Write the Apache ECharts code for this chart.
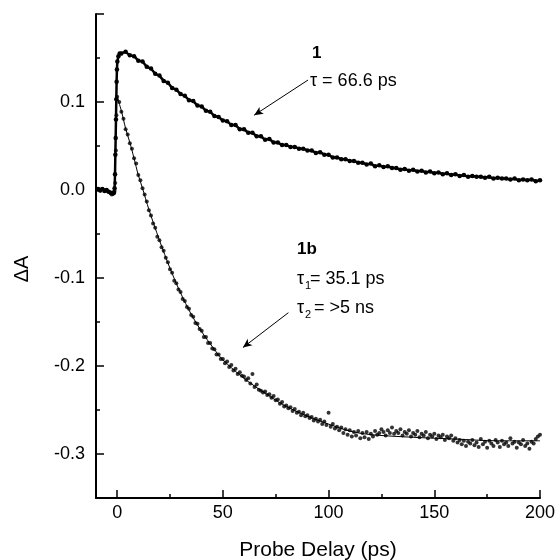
<!DOCTYPE html>
<html>
<head>
<meta charset="utf-8">
<script src="https://cdn.jsdelivr.net/npm/echarts@6/dist/echarts.min.js"></script>
<style>
    html, body { margin: 0; padding: 0; background: #fff; }
    #probe_delay_chart { width: 557px; height: 560px; }
</style>
</head>
<body>
<div id="probe_delay_chart"></div>
<script>
// compound 1: measured points (ps, dA)
var delay1 = [-9, -8, -7, -6, -5, -4, -3, -2, -1.5, -1.2, -1.0, -0.85, -0.7, -0.55, -0.4, -0.25, -0.1, 0.1, 0.6, 1.2,
    2, 4, 6, 8, 10, 12, 14, 16, 18, 20, 22, 24, 26, 28, 30, 32, 34, 36, 38, 40, 42, 44, 46, 48, 50,
    52, 54, 56, 58, 60, 62, 64, 66, 68, 70, 72, 74, 76, 78, 80, 82, 84, 86, 88, 90, 92, 94, 96, 98, 100,
    102, 104, 106, 108, 110, 112, 114, 116, 118, 120, 122, 124, 126, 128, 130, 132, 134, 136, 138, 140,
    142, 144, 146, 148, 150, 152, 154, 156, 158, 160, 162, 164, 166, 168, 170, 172, 174, 176, 178, 180,
    182, 184, 186, 188, 190, 192, 194, 196, 198, 200];
var dA1 = [0.001, 0.000, 0.001, -0.001, 0.000, -0.002, -0.003, -0.004, -0.003, 0.002, 0.018, 0.040, 0.059, 0.080, 0.103, 0.123, 0.137, 0.146, 0.152, 0.155,
    0.155, 0.157, 0.153, 0.152, 0.147, 0.146, 0.140, 0.138, 0.132, 0.130, 0.124, 0.122, 0.116, 0.114, 0.109, 0.107, 0.102, 0.101, 0.096, 0.095,
    0.090, 0.089, 0.084, 0.083, 0.079, 0.078, 0.074, 0.074, 0.069, 0.069, 0.065, 0.065, 0.061, 0.061, 0.057, 0.058, 0.054, 0.054, 0.051, 0.051,
    0.049, 0.049, 0.047, 0.047, 0.045, 0.045, 0.042, 0.043, 0.040, 0.040, 0.037, 0.037, 0.035, 0.035, 0.033, 0.033, 0.031, 0.031, 0.029, 0.030,
    0.027, 0.028, 0.026, 0.027, 0.025, 0.025, 0.023, 0.024, 0.022, 0.023, 0.021, 0.022, 0.020, 0.021, 0.019, 0.020, 0.018, 0.019, 0.017, 0.018,
    0.016, 0.017, 0.015, 0.016, 0.015, 0.015, 0.014, 0.015, 0.013, 0.014, 0.013, 0.013, 0.012, 0.013, 0.011, 0.012, 0.011, 0.012, 0.010, 0.011];

// compound 1b: measured points, 1 ps steps after the rise
var delay1bRise = [-9, -8, -7, -6, -5, -4, -3, -2.5, -2, -1.5, -1.2, -0.9, -0.6, -0.35];
var delay1b = delay1bRise.concat(Array.from({length: 201}, function (_, i) { return i; }));
var dA1b = [0.000, -0.001, 0.001, 0.000, -0.001, -0.002, -0.004, -0.005, -0.004, -0.003, -0.001, 0.008, 0.045, 0.085,
    0.106, 0.100, 0.089, 0.081, 0.069, 0.063, 0.053, 0.047, 0.036, 0.030,
    0.017, 0.011, 0.002, -0.005, -0.013, -0.023, -0.029, -0.038, -0.043, -0.053,
    -0.057, -0.065, -0.069, -0.077, -0.082, -0.090, -0.094, -0.103, -0.106, -0.113,
    -0.116, -0.124, -0.126, -0.133, -0.135, -0.142, -0.144, -0.151, -0.152, -0.158,
    -0.160, -0.167, -0.167, -0.174, -0.174, -0.180, -0.181, -0.187, -0.187, -0.192,
    -0.192, -0.197, -0.195, -0.201, -0.199, -0.205, -0.203, -0.209, -0.207, -0.211,
    -0.212, -0.216, -0.214, -0.220, -0.209, -0.224, -0.221, -0.227, -0.228, -0.230,
    -0.229, -0.233, -0.232, -0.236, -0.234, -0.239, -0.238, -0.243, -0.241, -0.246,
    -0.245, -0.248, -0.247, -0.251, -0.249, -0.253, -0.252, -0.256, -0.253, -0.257,
    -0.256, -0.259, -0.258, -0.262, -0.260, -0.263, -0.261, -0.266, -0.263, -0.267,
    -0.253, -0.269, -0.266, -0.271, -0.269, -0.273, -0.270, -0.276, -0.272, -0.278,
    -0.273, -0.280, -0.275, -0.279, -0.274, -0.282, -0.276, -0.281, -0.275, -0.283,
    -0.277, -0.280, -0.274, -0.278, -0.276, -0.272, -0.275, -0.279, -0.273, -0.276,
    -0.270, -0.277, -0.274, -0.276, -0.272, -0.279, -0.275, -0.277, -0.273, -0.280,
    -0.276, -0.278, -0.274, -0.281, -0.277, -0.279, -0.275, -0.282, -0.278, -0.280,
    -0.277, -0.283, -0.279, -0.281, -0.278, -0.284, -0.280, -0.282, -0.279, -0.285,
    -0.282, -0.287, -0.284, -0.289, -0.285, -0.291, -0.286, -0.288, -0.284, -0.290,
    -0.287, -0.292, -0.283, -0.289, -0.286, -0.293, -0.285, -0.288, -0.291, -0.284,
    -0.287, -0.292, -0.285, -0.289, -0.287, -0.291, -0.282, -0.288, -0.286, -0.293,
    -0.287, -0.289, -0.284, -0.291, -0.288, -0.294, -0.286, -0.288, -0.283, -0.280,
    -0.278];

// fitted curve for 1b (tau1 = 35.1 ps)
var fitDelay = [0, 2, 4, 6, 8, 10, 12, 15, 20, 25, 30, 35, 40, 45, 50, 60, 70, 80, 90, 100, 110, 120, 140, 160, 180, 200];
var fit1b = [0.106, 0.090, 0.070, 0.054, 0.036, 0.017, 0.002, -0.022, -0.057, -0.089, -0.117, -0.141, -0.161, -0.178,
    -0.193, -0.214, -0.231, -0.246, -0.257, -0.266, -0.274, -0.278, -0.281, -0.283, -0.285, -0.285];

// axis ticks
var xMajorTicks = [0, 50, 100, 150, 200];
var xMinorTicks = [25, 75, 125, 175];
var yMajorTicks = [-0.3, -0.2, -0.1, 0, 0.1, 0.2];
var yMinorTicks = [-0.25, -0.15, -0.05, 0.05, 0.15];
var yLabels = [-0.3, -0.2, -0.1, 0, 0.1];

var FONT = '"Liberation Sans", Arial, sans-serif';

function zip(xs, ys) {
    return xs.map(function (x, i) { return [x, ys[i]]; });
}

window.onload = function () {
    probeDelayChart();
};

/**
 * 瞬态吸收衰减图
 */
function probeDelayChart() {
    var myChart = echarts.init(document.getElementById('probe_delay_chart'), null, {renderer: 'canvas'});
    var tickLine = {color: '#000', width: 1.5};
    var option = {
        animation: false,
        backgroundColor: '#fff',
        grid: {left: 96, right: 17, top: 14, bottom: 62, outerBoundsMode: 'none'},
        xAxis: [
            {
                type: 'value', min: -10, max: 200, position: 'bottom',
                name: 'Probe Delay (ps)', nameLocation: 'middle', nameGap: 42,
                nameTextStyle: {fontFamily: FONT, fontSize: 21, color: '#000'},
                axisLine: {onZero: false, lineStyle: {color: '#000', width: 2}},
                axisTick: {inside: true, length: 8, lineStyle: tickLine, customValues: xMajorTicks},
                axisLabel: {customValues: xMajorTicks, fontFamily: FONT, fontSize: 18, color: '#000', margin: 6},
                splitLine: {show: false}
            },
            {
                type: 'value', min: -10, max: 200, position: 'bottom',
                axisLine: {show: false, onZero: false},
                axisTick: {inside: true, length: 4, lineStyle: tickLine, customValues: xMinorTicks},
                axisLabel: {show: false},
                splitLine: {show: false}
            }
        ],
        yAxis: [
            {
                type: 'value', min: -0.35, max: 0.2, position: 'left',
                axisLine: {onZero: false, lineStyle: {color: '#000', width: 2}},
                axisTick: {inside: true, length: 8, lineStyle: tickLine, customValues: yMajorTicks},
                axisLabel: {
                    customValues: yLabels, fontFamily: FONT, fontSize: 18, color: '#000', margin: 11,
                    formatter: function (v) { return v.toFixed(1); }
                },
                splitLine: {show: false}
            },
            {
                type: 'value', min: -0.35, max: 0.2, position: 'left',
                axisLine: {show: false, onZero: false},
                axisTick: {inside: true, length: 4, lineStyle: tickLine, customValues: yMinorTicks},
                axisLabel: {show: false},
                splitLine: {show: false}
            }
        ],
        graphic: [
            {type: 'text', x: 22, y: 269, rotation: Math.PI / 2,
                style: {text: 'ΔA', font: '20px ' + FONT, fill: '#000', textAlign: 'center', textVerticalAlign: 'middle'}},
            {type: 'text', x: 312, y: 53,
                style: {text: '1', font: 'bold 17px ' + FONT, fill: '#000', textVerticalAlign: 'middle'}},
            {type: 'text', x: 310, y: 81,
                style: {text: 'τ = 66.6 ps', font: '18px ' + FONT, fill: '#000', textVerticalAlign: 'middle'}},
            {type: 'text', x: 297, y: 249,
                style: {text: '1b', font: 'bold 17px ' + FONT, fill: '#000', textVerticalAlign: 'middle'}},
            {type: 'text', x: 297, y: 279,
                style: {text: 'τ', font: '18px ' + FONT, fill: '#000', textVerticalAlign: 'middle'}},
            {type: 'text', x: 305, y: 286,
                style: {text: '1', font: '11px ' + FONT, fill: '#000', textVerticalAlign: 'middle'}},
            {type: 'text', x: 310, y: 279,
                style: {text: '= 35.1 ps', font: '18px ' + FONT, fill: '#000', textVerticalAlign: 'middle'}},
            {type: 'text', x: 297, y: 308,
                style: {text: 'τ', font: '18px ' + FONT, fill: '#000', textVerticalAlign: 'middle'}},
            {type: 'text', x: 305, y: 315,
                style: {text: '2', font: '11px ' + FONT, fill: '#000', textVerticalAlign: 'middle'}},
            {type: 'text', x: 314, y: 308,
                style: {text: '= >5 ns', font: '18px ' + FONT, fill: '#000', textVerticalAlign: 'middle'}}
        ],
        series: [
            {
                name: 'fit 1b',
                type: 'line',
                data: zip(fitDelay, fit1b),
                smooth: 0.3,
                showSymbol: false,
                lineStyle: {color: '#000', width: 1},
                z: 2,
                markLine: {
                    silent: true,
                    symbol: ['none', 'arrow'],
                    symbolSize: [6, 9],
                    label: {show: false},
                    lineStyle: {color: '#000', width: 1, type: 'solid'},
                    data: [
                        [{coord: [90.3, 0.125]}, {coord: [64.8, 0.085]}],
                        [{coord: [81.0, -0.1394]}, {coord: [59.5, -0.179]}]
                    ]
                }
            },
            {
                name: '1',
                type: 'line',
                data: zip(delay1, dA1),
                symbol: 'circle',
                symbolSize: 4.5,
                showAllSymbol: true,
                itemStyle: {color: '#000'},
                lineStyle: {color: '#000', width: 2.5},
                z: 3
            },
            {
                name: '1b',
                type: 'scatter',
                data: zip(delay1b, dA1b),
                symbol: 'circle',
                symbolSize: 4,
                itemStyle: {color: '#000'},
                z: 3
            }
        ]
    };
    if (option && typeof option === "object") {
        myChart.setOption(option, true);
    }
}
</script>
</body>
</html>
